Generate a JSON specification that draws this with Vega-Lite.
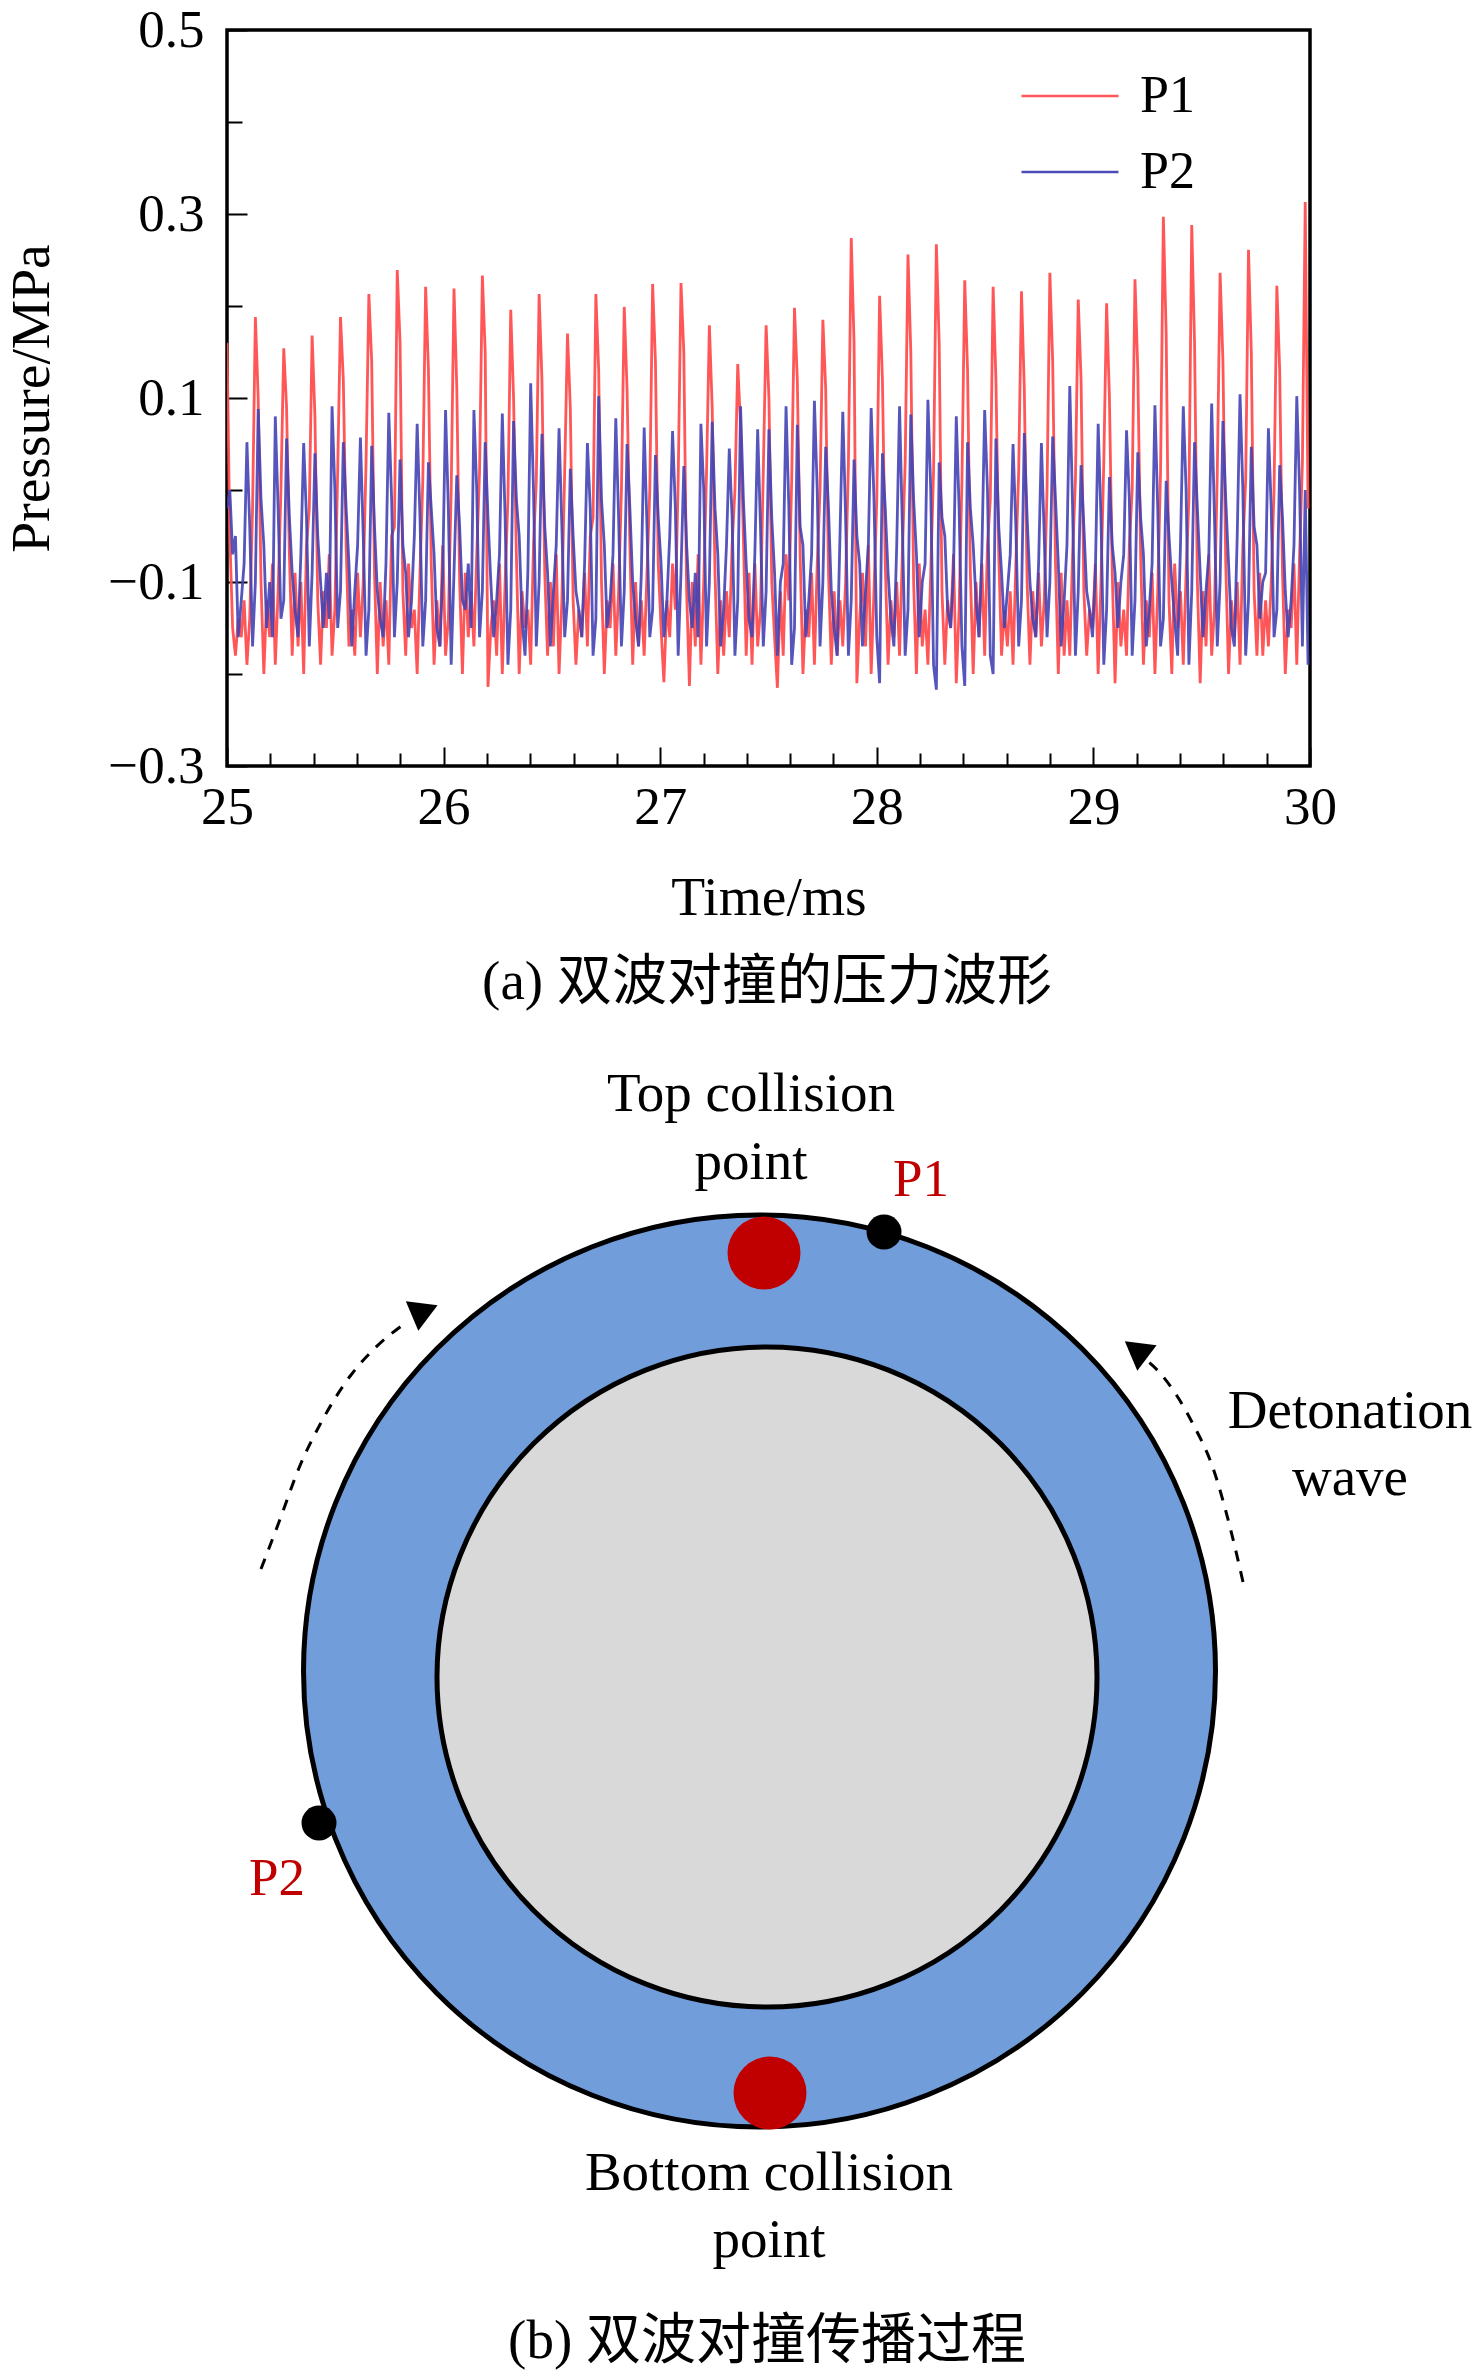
{"$schema":"https://vega.github.io/schema/vega-lite/v6.json","background":"white","padding":{"left":3,"top":2,"right":0,"bottom":0},"spacing":0,"config":{"font":"Liberation Serif"},"datasets":{"wave":[
{"t":25.000,"P1":0.16,"P2":-0.02},{"t":25.013,"P1":-0.05,"P2":0},{"t":25.026,"P1":-0.15,"P2":-0.07},{"t":25.039,"P1":-0.18,"P2":-0.05},{"t":25.052,"P1":-0.14,"P2":-0.16},{"t":25.066,"P1":-0.16,"P2":-0.12},{"t":25.079,"P1":-0.12,"P2":-0.08},{"t":25.092,"P1":-0.19,"P2":0.052},{"t":25.105,"P1":-0.14,"P2":-0.04},{"t":25.118,"P1":-0.02,"P2":-0.17},
{"t":25.131,"P1":0.188,"P2":-0.1},{"t":25.144,"P1":0.1,"P2":0.088},{"t":25.157,"P1":-0.1,"P2":-0.01},{"t":25.170,"P1":-0.2,"P2":-0.06},{"t":25.183,"P1":-0.12,"P2":-0.15},{"t":25.197,"P1":-0.16,"P2":-0.1},{"t":25.210,"P1":-0.08,"P2":-0.16},{"t":25.223,"P1":-0.19,"P2":0.08},{"t":25.236,"P1":-0.11,"P2":-0.02},{"t":25.249,"P1":0,"P2":-0.14},
{"t":25.262,"P1":0.154,"P2":-0.12},{"t":25.275,"P1":0.09,"P2":0.056},{"t":25.288,"P1":-0.07,"P2":-0.03},{"t":25.301,"P1":-0.18,"P2":-0.09},{"t":25.314,"P1":-0.09,"P2":-0.13},{"t":25.328,"P1":-0.17,"P2":-0.16},{"t":25.341,"P1":-0.1,"P2":-0.07},{"t":25.354,"P1":-0.2,"P2":0.051},{"t":25.367,"P1":-0.06,"P2":-0.03},{"t":25.380,"P1":-0.02,"P2":-0.17},
{"t":25.393,"P1":0.168,"P2":-0.09},{"t":25.406,"P1":0.08,"P2":0.04},{"t":25.419,"P1":-0.12,"P2":-0.05},{"t":25.432,"P1":-0.19,"P2":-0.1},{"t":25.445,"P1":-0.11,"P2":-0.15},{"t":25.459,"P1":-0.15,"P2":-0.09},{"t":25.472,"P1":-0.07,"P2":-0.14},{"t":25.485,"P1":-0.18,"P2":0.091},{"t":25.498,"P1":-0.13,"P2":0},{"t":25.511,"P1":0.02,"P2":-0.15},
{"t":25.524,"P1":0.188,"P2":-0.11},{"t":25.537,"P1":0.12,"P2":0.052},{"t":25.550,"P1":-0.06,"P2":-0.02},{"t":25.563,"P1":-0.17,"P2":-0.08},{"t":25.576,"P1":-0.13,"P2":-0.17},{"t":25.590,"P1":-0.18,"P2":-0.11},{"t":25.603,"P1":-0.09,"P2":-0.06},{"t":25.616,"P1":-0.16,"P2":0.057},{"t":25.629,"P1":-0.1,"P2":-0.05},{"t":25.642,"P1":0.03,"P2":-0.18},
{"t":25.655,"P1":0.213,"P2":-0.13},{"t":25.668,"P1":0.14,"P2":0.048},{"t":25.681,"P1":-0.09,"P2":-0.04},{"t":25.694,"P1":-0.2,"P2":-0.11},{"t":25.707,"P1":-0.1,"P2":-0.14},{"t":25.721,"P1":-0.17,"P2":-0.16},{"t":25.734,"P1":-0.12,"P2":-0.08},{"t":25.747,"P1":-0.19,"P2":0.084},{"t":25.760,"P1":-0.05,"P2":-0.01},{"t":25.773,"P1":-0.04,"P2":-0.16},
{"t":25.786,"P1":0.239,"P2":-0.1},{"t":25.799,"P1":0.16,"P2":0.033},{"t":25.812,"P1":-0.11,"P2":-0.06},{"t":25.825,"P1":-0.18,"P2":-0.09},{"t":25.838,"P1":-0.08,"P2":-0.16},{"t":25.852,"P1":-0.15,"P2":-0.12},{"t":25.865,"P1":-0.13,"P2":-0.05},{"t":25.878,"P1":-0.2,"P2":0.072},{"t":25.891,"P1":-0.09,"P2":-0.03},{"t":25.904,"P1":0.01,"P2":-0.17},
{"t":25.917,"P1":0.221,"P2":-0.12},{"t":25.930,"P1":0.13,"P2":0.03},{"t":25.943,"P1":-0.08,"P2":-0.02},{"t":25.956,"P1":-0.19,"P2":-0.07},{"t":25.969,"P1":-0.12,"P2":-0.15},{"t":25.983,"P1":-0.17,"P2":-0.17},{"t":25.996,"P1":-0.06,"P2":-0.09},{"t":26.009,"P1":-0.18,"P2":0.087},{"t":26.022,"P1":-0.14,"P2":-0.02},{"t":26.035,"P1":0,"P2":-0.19},
{"t":26.048,"P1":0.219,"P2":-0.09},{"t":26.061,"P1":0.11,"P2":0.016},{"t":26.074,"P1":-0.1,"P2":-0.04},{"t":26.087,"P1":-0.2,"P2":-0.12},{"t":26.100,"P1":-0.09,"P2":-0.13},{"t":26.114,"P1":-0.16,"P2":-0.08},{"t":26.127,"P1":-0.11,"P2":-0.15},{"t":26.140,"P1":-0.17,"P2":0.087},{"t":26.153,"P1":-0.07,"P2":0},{"t":26.166,"P1":0.02,"P2":-0.16},
{"t":26.179,"P1":0.233,"P2":-0.11},{"t":26.192,"P1":0.15,"P2":0.052},{"t":26.205,"P1":-0.214,"P2":-0.03},{"t":26.218,"P1":-0.15,"P2":-0.1},{"t":26.231,"P1":-0.12,"P2":-0.16},{"t":26.245,"P1":-0.18,"P2":-0.12},{"t":26.258,"P1":-0.08,"P2":-0.07},{"t":26.271,"P1":-0.2,"P2":0.083},{"t":26.284,"P1":-0.1,"P2":-0.03},{"t":26.297,"P1":-0.01,"P2":-0.19},
{"t":26.310,"P1":0.196,"P2":-0.13},{"t":26.323,"P1":0.1,"P2":0.075},{"t":26.336,"P1":-0.07,"P2":-0.01},{"t":26.349,"P1":-0.2,"P2":-0.05},{"t":26.362,"P1":-0.11,"P2":-0.14},{"t":26.376,"P1":-0.15,"P2":-0.18},{"t":26.389,"P1":-0.13,"P2":-0.09},{"t":26.402,"P1":-0.19,"P2":0.116},{"t":26.415,"P1":-0.06,"P2":0},{"t":26.428,"P1":0.01,"P2":-0.17},
{"t":26.441,"P1":0.213,"P2":-0.1},{"t":26.454,"P1":0.12,"P2":0.061},{"t":26.467,"P1":-0.09,"P2":-0.04},{"t":26.480,"P1":-0.18,"P2":-0.09},{"t":26.493,"P1":-0.1,"P2":-0.17},{"t":26.507,"P1":-0.17,"P2":-0.11},{"t":26.520,"P1":-0.07,"P2":-0.06},{"t":26.533,"P1":-0.2,"P2":0.067},{"t":26.546,"P1":-0.12,"P2":-0.04},{"t":26.559,"P1":0.02,"P2":-0.16},
{"t":26.572,"P1":0.17,"P2":-0.12},{"t":26.585,"P1":0.09,"P2":0.023},{"t":26.598,"P1":-0.12,"P2":-0.05},{"t":26.611,"P1":-0.19,"P2":-0.11},{"t":26.624,"P1":-0.13,"P2":-0.13},{"t":26.638,"P1":-0.16,"P2":-0.16},{"t":26.651,"P1":-0.09,"P2":-0.08},{"t":26.664,"P1":-0.17,"P2":0.051},{"t":26.677,"P1":-0.05,"P2":-0.02},{"t":26.690,"P1":-0.03,"P2":-0.18},
{"t":26.703,"P1":0.213,"P2":-0.14},{"t":26.716,"P1":0.13,"P2":0.102},{"t":26.729,"P1":-0.1,"P2":-0.01},{"t":26.742,"P1":-0.2,"P2":-0.06},{"t":26.755,"P1":-0.12,"P2":-0.15},{"t":26.769,"P1":-0.15,"P2":-0.12},{"t":26.782,"P1":-0.08,"P2":-0.07},{"t":26.795,"P1":-0.18,"P2":0.078},{"t":26.808,"P1":-0.11,"P2":-0.03},{"t":26.821,"P1":0,"P2":-0.17},
{"t":26.834,"P1":0.199,"P2":-0.11},{"t":26.847,"P1":0.11,"P2":0.05},{"t":26.860,"P1":-0.06,"P2":-0.02},{"t":26.873,"P1":-0.19,"P2":-0.1},{"t":26.886,"P1":-0.1,"P2":-0.14},{"t":26.900,"P1":-0.17,"P2":-0.17},{"t":26.913,"P1":-0.12,"P2":-0.09},{"t":26.926,"P1":-0.18,"P2":0.068},{"t":26.939,"P1":-0.09,"P2":-0.04},{"t":26.952,"P1":0,"P2":-0.16},
{"t":26.965,"P1":0.224,"P2":-0.13},{"t":26.978,"P1":0.14,"P2":0.038},{"t":26.991,"P1":-0.08,"P2":-0.03},{"t":27.004,"P1":-0.15,"P2":-0.08},{"t":27.017,"P1":-0.209,"P2":-0.16},{"t":27.031,"P1":-0.12,"P2":-0.12},{"t":27.044,"P1":-0.16,"P2":-0.05},{"t":27.057,"P1":-0.08,"P2":0.064},{"t":27.070,"P1":-0.13,"P2":-0.02},{"t":27.083,"P1":0.01,"P2":-0.18},
{"t":27.096,"P1":0.225,"P2":-0.09},{"t":27.109,"P1":0.15,"P2":0.026},{"t":27.122,"P1":-0.11,"P2":-0.06},{"t":27.135,"P1":-0.213,"P2":-0.12},{"t":27.148,"P1":-0.1,"P2":-0.15},{"t":27.162,"P1":-0.17,"P2":-0.09},{"t":27.175,"P1":-0.07,"P2":-0.16},{"t":27.188,"P1":-0.19,"P2":0.072},{"t":27.201,"P1":-0.1,"P2":0},{"t":27.214,"P1":0.02,"P2":-0.17},
{"t":27.227,"P1":0.179,"P2":-0.1},{"t":27.240,"P1":0.09,"P2":0.074},{"t":27.253,"P1":-0.09,"P2":-0.02},{"t":27.266,"P1":-0.2,"P2":-0.07},{"t":27.279,"P1":-0.12,"P2":-0.17},{"t":27.293,"P1":-0.18,"P2":-0.13},{"t":27.306,"P1":-0.11,"P2":-0.06},{"t":27.319,"P1":-0.16,"P2":0.045},{"t":27.332,"P1":-0.06,"P2":-0.03},{"t":27.345,"P1":0,"P2":-0.18},
{"t":27.358,"P1":0.137,"P2":-0.12},{"t":27.371,"P1":0.07,"P2":0.091},{"t":27.384,"P1":-0.05,"P2":-0.01},{"t":27.397,"P1":-0.18,"P2":-0.08},{"t":27.410,"P1":-0.09,"P2":-0.14},{"t":27.424,"P1":-0.19,"P2":-0.16},{"t":27.437,"P1":-0.08,"P2":-0.07},{"t":27.450,"P1":-0.17,"P2":0.066},{"t":27.463,"P1":-0.13,"P2":-0.04},{"t":27.476,"P1":0.02,"P2":-0.17},
{"t":27.489,"P1":0.179,"P2":-0.11},{"t":27.502,"P1":0.1,"P2":0.066},{"t":27.515,"P1":-0.1,"P2":-0.03},{"t":27.528,"P1":-0.16,"P2":-0.09},{"t":27.541,"P1":-0.215,"P2":-0.18},{"t":27.555,"P1":-0.11,"P2":-0.1},{"t":27.568,"P1":-0.18,"P2":-0.08},{"t":27.581,"P1":-0.07,"P2":0.091},{"t":27.594,"P1":-0.12,"P2":-0.02},{"t":27.607,"P1":0.01,"P2":-0.19},
{"t":27.620,"P1":0.198,"P2":-0.15},{"t":27.633,"P1":0.12,"P2":0.071},{"t":27.646,"P1":-0.07,"P2":-0.04},{"t":27.659,"P1":-0.2,"P2":-0.06},{"t":27.672,"P1":-0.13,"P2":-0.16},{"t":27.686,"P1":-0.16,"P2":-0.12},{"t":27.699,"P1":-0.09,"P2":-0.07},{"t":27.712,"P1":-0.19,"P2":0.097},{"t":27.725,"P1":-0.08,"P2":0},{"t":27.738,"P1":0,"P2":-0.17},
{"t":27.751,"P1":0.185,"P2":-0.1},{"t":27.764,"P1":0.11,"P2":0.047},{"t":27.777,"P1":-0.09,"P2":-0.02},{"t":27.790,"P1":-0.19,"P2":-0.11},{"t":27.803,"P1":-0.11,"P2":-0.15},{"t":27.817,"P1":-0.18,"P2":-0.18},{"t":27.830,"P1":-0.12,"P2":-0.05},{"t":27.843,"P1":-0.17,"P2":0.085},{"t":27.856,"P1":-0.1,"P2":-0.03},{"t":27.869,"P1":0.03,"P2":-0.18},
{"t":27.882,"P1":0.274,"P2":-0.12},{"t":27.895,"P1":0.16,"P2":0.033},{"t":27.908,"P1":-0.21,"P2":-0.05},{"t":27.921,"P1":-0.14,"P2":-0.08},{"t":27.934,"P1":-0.09,"P2":-0.17},{"t":27.948,"P1":-0.17,"P2":-0.11},{"t":27.961,"P1":-0.06,"P2":-0.06},{"t":27.974,"P1":-0.2,"P2":0.089},{"t":27.987,"P1":-0.11,"P2":-0.01},{"t":28.000,"P1":-0.01,"P2":-0.16},
{"t":28.013,"P1":0.211,"P2":-0.21},{"t":28.026,"P1":0.12,"P2":0.04},{"t":28.039,"P1":-0.08,"P2":-0.02},{"t":28.052,"P1":-0.19,"P2":-0.09},{"t":28.065,"P1":-0.12,"P2":-0.14},{"t":28.079,"P1":-0.16,"P2":-0.17},{"t":28.092,"P1":-0.1,"P2":-0.06},{"t":28.105,"P1":-0.18,"P2":0.091},{"t":28.118,"P1":-0.07,"P2":-0.04},{"t":28.131,"P1":0.03,"P2":-0.18},
{"t":28.144,"P1":0.256,"P2":-0.13},{"t":28.157,"P1":0.15,"P2":0.082},{"t":28.170,"P1":-0.1,"P2":-0.01},{"t":28.183,"P1":-0.2,"P2":-0.07},{"t":28.196,"P1":-0.08,"P2":-0.16},{"t":28.210,"P1":-0.17,"P2":-0.1},{"t":28.223,"P1":-0.13,"P2":-0.08},{"t":28.236,"P1":-0.19,"P2":0.098},{"t":28.249,"P1":-0.09,"P2":0},{"t":28.262,"P1":0.02,"P2":-0.19},
{"t":28.275,"P1":0.267,"P2":-0.217},{"t":28.288,"P1":0.16,"P2":0.03},{"t":28.301,"P1":-0.11,"P2":-0.03},{"t":28.314,"P1":-0.19,"P2":-0.05},{"t":28.327,"P1":-0.12,"P2":-0.13},{"t":28.341,"P1":-0.15,"P2":-0.15},{"t":28.354,"P1":-0.07,"P2":-0.09},{"t":28.367,"P1":-0.21,"P2":0.08},{"t":28.380,"P1":-0.13,"P2":-0.02},{"t":28.393,"P1":0.01,"P2":-0.17},
{"t":28.406,"P1":0.228,"P2":-0.213},{"t":28.419,"P1":0.13,"P2":0.052},{"t":28.432,"P1":-0.09,"P2":-0.02},{"t":28.445,"P1":-0.2,"P2":-0.06},{"t":28.458,"P1":-0.1,"P2":-0.12},{"t":28.472,"P1":-0.16,"P2":-0.16},{"t":28.485,"P1":-0.08,"P2":-0.07},{"t":28.498,"P1":-0.18,"P2":0.087},{"t":28.511,"P1":-0.06,"P2":0},{"t":28.524,"P1":-0.01,"P2":-0.18},
{"t":28.537,"P1":0.221,"P2":-0.2},{"t":28.550,"P1":0.12,"P2":0.056},{"t":28.563,"P1":-0.07,"P2":-0.04},{"t":28.576,"P1":-0.18,"P2":-0.09},{"t":28.589,"P1":-0.13,"P2":-0.15},{"t":28.603,"P1":-0.17,"P2":-0.11},{"t":28.616,"P1":-0.11,"P2":-0.07},{"t":28.629,"P1":-0.19,"P2":0.05},{"t":28.642,"P1":-0.08,"P2":-0.04},{"t":28.655,"P1":0.02,"P2":-0.17},
{"t":28.668,"P1":0.216,"P2":-0.12},{"t":28.681,"P1":0.11,"P2":0.062},{"t":28.694,"P1":-0.1,"P2":-0.03},{"t":28.707,"P1":-0.19,"P2":-0.1},{"t":28.720,"P1":-0.11,"P2":-0.14},{"t":28.734,"P1":-0.16,"P2":-0.16},{"t":28.747,"P1":-0.09,"P2":-0.08},{"t":28.760,"P1":-0.17,"P2":0.051},{"t":28.773,"P1":-0.12,"P2":-0.05},{"t":28.786,"P1":0,"P2":-0.16},
{"t":28.799,"P1":0.236,"P2":-0.1},{"t":28.812,"P1":0.14,"P2":0.058},{"t":28.825,"P1":-0.08,"P2":-0.01},{"t":28.838,"P1":-0.2,"P2":-0.08},{"t":28.851,"P1":-0.09,"P2":-0.17},{"t":28.865,"P1":-0.18,"P2":-0.12},{"t":28.878,"P1":-0.12,"P2":-0.06},{"t":28.891,"P1":-0.18,"P2":0.113},{"t":28.904,"P1":-0.07,"P2":-0.02},{"t":28.917,"P1":0.01,"P2":-0.18},
{"t":28.930,"P1":0.207,"P2":-0.11},{"t":28.943,"P1":0.12,"P2":0.027},{"t":28.956,"P1":-0.11,"P2":-0.04},{"t":28.969,"P1":-0.18,"P2":-0.11},{"t":28.982,"P1":-0.13,"P2":-0.13},{"t":28.996,"P1":-0.15,"P2":-0.16},{"t":29.009,"P1":-0.08,"P2":-0.09},{"t":29.022,"P1":-0.2,"P2":0.072},{"t":29.035,"P1":-0.1,"P2":-0.03},{"t":29.048,"P1":0.03,"P2":-0.19},
{"t":29.061,"P1":0.203,"P2":-0.13},{"t":29.074,"P1":0.1,"P2":0.014},{"t":29.087,"P1":-0.09,"P2":-0.06},{"t":29.100,"P1":-0.21,"P2":-0.09},{"t":29.113,"P1":-0.1,"P2":-0.15},{"t":29.127,"P1":-0.17,"P2":-0.1},{"t":29.140,"P1":-0.13,"P2":-0.07},{"t":29.153,"P1":-0.18,"P2":0.065},{"t":29.166,"P1":-0.06,"P2":-0.01},{"t":29.179,"P1":0,"P2":-0.18},
{"t":29.192,"P1":0.229,"P2":-0.12},{"t":29.205,"P1":0.13,"P2":0.041},{"t":29.218,"P1":-0.07,"P2":-0.03},{"t":29.231,"P1":-0.19,"P2":-0.07},{"t":29.244,"P1":-0.12,"P2":-0.17},{"t":29.258,"P1":-0.16,"P2":-0.13},{"t":29.271,"P1":-0.09,"P2":-0.08},{"t":29.284,"P1":-0.2,"P2":0.092},{"t":29.297,"P1":-0.11,"P2":-0.02},{"t":29.310,"P1":0.02,"P2":-0.17},
{"t":29.323,"P1":0.297,"P2":-0.14},{"t":29.336,"P1":0.17,"P2":0.01},{"t":29.349,"P1":-0.12,"P2":-0.05},{"t":29.362,"P1":-0.2,"P2":-0.1},{"t":29.375,"P1":-0.08,"P2":-0.14},{"t":29.389,"P1":-0.15,"P2":-0.18},{"t":29.402,"P1":-0.11,"P2":-0.06},{"t":29.415,"P1":-0.19,"P2":0.091},{"t":29.428,"P1":-0.09,"P2":0},{"t":29.441,"P1":-0.01,"P2":-0.19},
{"t":29.454,"P1":0.288,"P2":-0.11},{"t":29.467,"P1":0.16,"P2":0.052},{"t":29.480,"P1":-0.1,"P2":-0.02},{"t":29.493,"P1":-0.21,"P2":-0.09},{"t":29.506,"P1":-0.11,"P2":-0.16},{"t":29.520,"P1":-0.17,"P2":-0.11},{"t":29.533,"P1":-0.07,"P2":-0.07},{"t":29.546,"P1":-0.18,"P2":0.094},{"t":29.559,"P1":-0.13,"P2":-0.03},{"t":29.572,"P1":0.02,"P2":-0.17},
{"t":29.585,"P1":0.236,"P2":-0.1},{"t":29.598,"P1":0.14,"P2":0.075},{"t":29.611,"P1":-0.08,"P2":-0.01},{"t":29.624,"P1":-0.2,"P2":-0.08},{"t":29.637,"P1":-0.12,"P2":-0.15},{"t":29.651,"P1":-0.16,"P2":-0.17},{"t":29.664,"P1":-0.1,"P2":-0.05},{"t":29.677,"P1":-0.19,"P2":0.104},{"t":29.690,"P1":-0.06,"P2":0},{"t":29.703,"P1":0.01,"P2":-0.18},
{"t":29.716,"P1":0.261,"P2":-0.12},{"t":29.729,"P1":0.15,"P2":0.047},{"t":29.742,"P1":-0.11,"P2":-0.04},{"t":29.755,"P1":-0.18,"P2":-0.06},{"t":29.768,"P1":-0.09,"P2":-0.14},{"t":29.782,"P1":-0.18,"P2":-0.1},{"t":29.795,"P1":-0.12,"P2":-0.09},{"t":29.808,"P1":-0.17,"P2":0.067},{"t":29.821,"P1":-0.1,"P2":-0.02},{"t":29.834,"P1":0,"P2":-0.16},
{"t":29.847,"P1":0.222,"P2":-0.13},{"t":29.860,"P1":0.13,"P2":0.027},{"t":29.873,"P1":-0.09,"P2":-0.03},{"t":29.886,"P1":-0.2,"P2":-0.11},{"t":29.899,"P1":-0.13,"P2":-0.16},{"t":29.913,"P1":-0.15,"P2":-0.12},{"t":29.926,"P1":-0.08,"P2":-0.06},{"t":29.939,"P1":-0.19,"P2":0.102},{"t":29.952,"P1":-0.07,"P2":0},{"t":29.965,"P1":0.03,"P2":-0.17},
{"t":29.978,"P1":0.313,"P2":0},{"t":29.991,"P1":-0.02,"P2":-0.19}
]},"vconcat":[
{"width":1083,"height":736,"view":{"stroke":"black","strokeWidth":3.5},"data":{"name":"wave"},"resolve":{"axis":{"x":"independent","y":"independent"}},"layer":[
{"mark":{"type":"line","strokeWidth":2.8,"clip":true,"opacity":0.95},"encoding":{"x":{"field":"t","type":"quantitative","scale":{"domain":[25,30],"nice":false,"zero":false},"axis":{"orient":"bottom","values":[25,26,27,28,29,30],"format":"d","title":"Time/ms","titleFont":"Liberation Serif","titleFontSize":55.5,"titleFontWeight":"normal","titlePadding":36,"labelFont":"Liberation Serif","labelFontSize":53,"labelColor":"black","titleColor":"black","labelPadding":34,"labelFlush":false,"labelOverlap":false,"domain":false,"grid":false,"tickSize":-19,"tickWidth":2,"tickColor":"black"}},"y":{"field":"P1","type":"quantitative","scale":{"domain":[-0.3,0.5],"nice":false,"zero":false},"axis":{"orient":"left","values":[-0.3,-0.1,0.1,0.3,0.5],"format":".1f","title":"Pressure/MPa","titleFont":"Liberation Serif","titleFontSize":55.5,"titleFontWeight":"normal","titlePadding":47,"labelFont":"Liberation Serif","labelFontSize":53,"labelColor":"black","titleColor":"black","labelPadding":43,"labelOverlap":false,"domain":false,"grid":false,"tickSize":-20,"tickWidth":2,"tickColor":"black"}},"color":{"datum":"P1","scale":{"domain":["P1","P2"],"range":["#ff4d4f","#4343b4"]},"legend":{"orient":"none","legendX":793,"legendY":16,"title":null,"symbolType":"stroke","symbolSize":9400,"symbolStrokeWidth":2.5,"labelFont":"Liberation Serif","labelFontSize":52,"labelColor":"black","labelOffset":20,"rowPadding":-13}}}},
{"mark":{"type":"line","strokeWidth":2.8,"clip":true,"opacity":0.9},"encoding":{"x":{"field":"t","type":"quantitative","axis":{"orient":"bottom","values":[25.2,25.4,25.6,25.8,26.2,26.4,26.6,26.8,27.2,27.4,27.6,27.8,28.2,28.4,28.6,28.8,29.2,29.4,29.6,29.8],"title":null,"labels":false,"domain":false,"grid":false,"tickSize":-13,"tickWidth":2,"tickColor":"black"}},"y":{"field":"P2","type":"quantitative","axis":{"orient":"left","values":[-0.2,0,0.2,0.4],"title":null,"labels":false,"domain":false,"grid":false,"tickSize":-15,"tickWidth":2,"tickColor":"black"}},"color":{"datum":"P2"}}}
]},
{"width":1250,"height":1443,"view":{"stroke":null},"data":{"values":[{"x":0,"y":0}]},"encoding":{"x":{"field":"x","type":"quantitative","axis":null,"scale":{"domain":[228,1478],"nice":false,"zero":false}},"y":{"field":"y","type":"quantitative","axis":null,"scale":{"domain":[933,2376],"nice":false,"zero":false,"reverse":true}}},"layer":[
{"data":{"values":[{"x":760.5,"y":1676}]},"mark":{"type":"point","shape":"circle","filled":false,"fill":"#719ddb","stroke":"black","strokeWidth":5,"opacity":1,"size":831744}},
{"data":{"values":[{"x":768,"y":1682}]},"mark":{"type":"point","shape":"circle","filled":false,"fill":"#d9d9d9","stroke":"black","strokeWidth":5,"opacity":1,"size":435600}},
{"data":{"values":[{"x":765,"y":1258},{"x":771,"y":2098}]},"mark":{"type":"point","shape":"circle","filled":true,"color":"#c00000","opacity":1,"size":5329}},
{"data":{"values":[{"x":885,"y":1237},{"x":320,"y":1828}]},"mark":{"type":"point","shape":"circle","filled":true,"color":"black","opacity":1,"size":1225}},
{"data":{"values":[{"x":262,"y":1574,"n":1},{"x":280,"y":1527,"n":2},{"x":300,"y":1473,"n":3},{"x":324,"y":1424,"n":4},{"x":352,"y":1380,"n":5},{"x":376,"y":1353,"n":6},{"x":405,"y":1329,"n":7}]},"mark":{"type":"line","color":"black","strokeWidth":3,"strokeDash":[11,10],"interpolate":"monotone"},"encoding":{"order":{"field":"n","type":"quantitative"}}},
{"data":{"values":[{"x":1244,"y":1587,"n":1},{"x":1231,"y":1532,"n":2},{"x":1214,"y":1473,"n":3},{"x":1194,"y":1429,"n":4},{"x":1161,"y":1378,"n":5},{"x":1145,"y":1363,"n":6}]},"mark":{"type":"line","color":"black","strokeWidth":3,"strokeDash":[11,10],"interpolate":"monotone"},"encoding":{"order":{"field":"n","type":"quantitative"}}},
{"data":{"values":[{"x":421,"y":1322},{"x":1140,"y":1362}]},"mark":{"type":"point","shape":"triangle-down","filled":true,"color":"black","opacity":1,"size":1024,"angle":7}},
{"data":{"values":[{"x":768,"y":987,"label":"(a) 双波对撞的压力波形"},{"x":752,"y":1099,"label":"Top collision"},{"x":752,"y":1167,"label":"point"},{"x":1351,"y":1416,"label":"Detonation"},{"x":1351,"y":1483,"label":"wave"},{"x":770,"y":2178,"label":"Bottom collision"},{"x":770,"y":2245,"label":"point"},{"x":768,"y":2346,"label":"(b) 双波对撞传播过程"}]},"mark":{"type":"text","font":"Liberation Serif, Noto Sans CJK SC","fontSize":55,"color":"black","baseline":"middle","align":"center"},"encoding":{"text":{"field":"label","type":"nominal"}}},
{"data":{"values":[{"x":922,"y":1185,"label":"P1"},{"x":278,"y":1884,"label":"P2"}]},"mark":{"type":"text","font":"Liberation Serif","fontSize":53,"color":"#c00000","baseline":"middle","align":"center"},"encoding":{"text":{"field":"label","type":"nominal"}}}
]}
]}
